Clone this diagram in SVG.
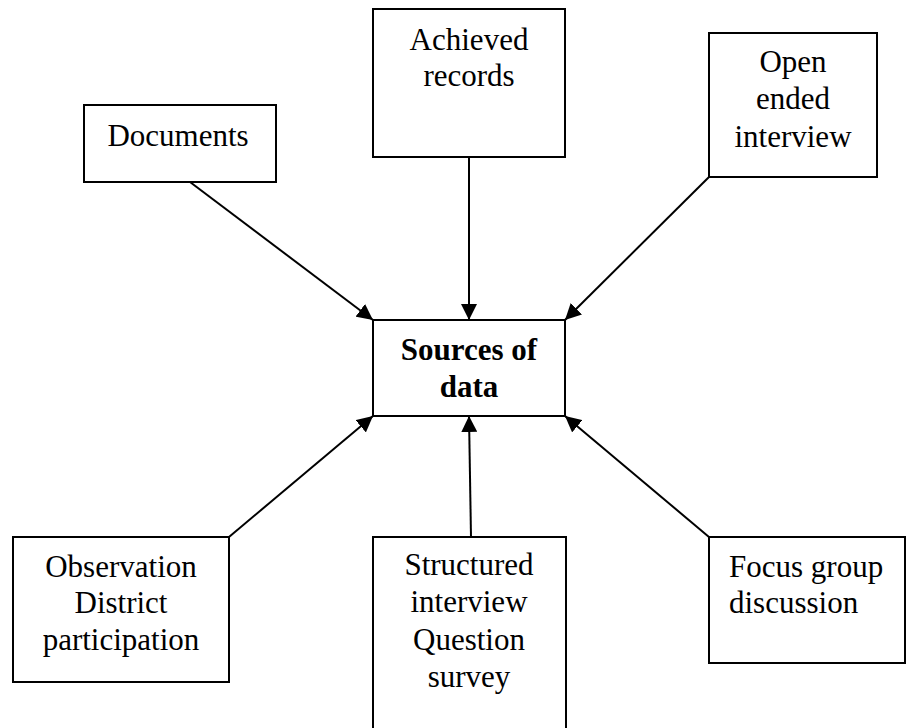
<svg xmlns="http://www.w3.org/2000/svg" width="916" height="728" viewBox="0 0 916 728">
<defs>
<marker id="ah" markerUnits="userSpaceOnUse" markerWidth="18" markerHeight="16" refX="16" refY="8" orient="auto">
<path d="M0,0 L16,8 L0,16 Z" fill="#000"/>
</marker>
<style>
.box{fill:#fff;stroke:#000;stroke-width:2}
.t{font-family:"Liberation Serif","Times New Roman",serif;font-size:31px;fill:#000;text-anchor:middle}
.b{font-weight:bold}
.l{text-anchor:start}
.c{stroke:#000;stroke-width:2;fill:none;marker-end:url(#ah)}
</style>
</defs>
<rect width="916" height="728" fill="#fff"/>
<g id="connectors">
<line class="c" x1="190" y1="182" x2="373" y2="320"/>
<line class="c" x1="469" y1="157" x2="469" y2="320"/>
<line class="c" x1="709" y1="177" x2="565" y2="320"/>
<line class="c" x1="229" y1="537" x2="373" y2="416"/>
<line class="c" x1="471" y1="537" x2="469" y2="416"/>
<line class="c" x1="709" y1="537" x2="565" y2="416"/>
</g>
<g id="center">
<rect class="box" x="373" y="320" width="192" height="96"/>
<text class="t b" x="469" y="360">Sources of</text>
<text class="t b" x="469" y="397">data</text>
</g>
<g id="documents">
<rect class="box" x="84" y="105" width="192" height="77"/>
<text class="t" x="178" y="146">Documents</text>
</g>
<g id="achieved">
<rect class="box" x="373" y="9" width="192" height="148"/>
<text class="t" x="469" y="50">Achieved</text>
<text class="t" x="469" y="86">records</text>
</g>
<g id="open">
<rect class="box" x="709" y="33" width="168" height="144"/>
<text class="t" x="793" y="72">Open</text>
<text class="t" x="793" y="109">ended</text>
<text class="t" x="793" y="147">interview</text>
</g>
<g id="observation">
<rect class="box" x="13" y="537" width="216" height="145"/>
<text class="t" x="121" y="577">Observation</text>
<text class="t" x="121" y="613">District</text>
<text class="t" x="121" y="650">participation</text>
</g>
<g id="structured">
<rect class="box" x="373" y="537" width="193" height="205"/>
<text class="t" x="469" y="575">Structured</text>
<text class="t" x="469" y="612">interview</text>
<text class="t" x="469" y="650">Question</text>
<text class="t" x="469" y="687">survey</text>
</g>
<g id="focus">
<rect class="box" x="709" y="537" width="196" height="126"/>
<text class="t l" x="729" y="577">Focus group</text>
<text class="t l" x="729" y="613">discussion</text>
</g>
</svg>
